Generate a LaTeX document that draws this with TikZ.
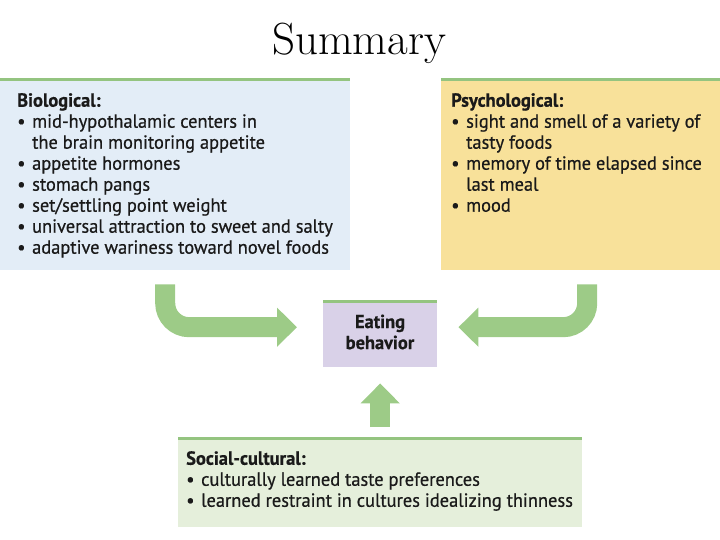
\documentclass[tikz,border=0pt]{standalone}
\usepackage{fontspec}
\setsansfont{PT Sans}[FakeStretch=0.97, FakeBold=0.6]
\usetikzlibrary{arrows.meta,calc}
\definecolor{biofill}{HTML}{E3EDF7}
\definecolor{psyfill}{HTML}{F8E19A}
\definecolor{eatfill}{HTML}{D9D1E8}
\definecolor{socfill}{HTML}{E5EFDB}
\definecolor{arrgreen}{HTML}{9DCB87}
\definecolor{bargreen}{HTML}{94C480}
\definecolor{txt}{HTML}{1A1A1A}
\tikzset{
  panel/.style={draw=none, inner sep=0pt, anchor=north west},
  paneltext/.style={anchor=north west, align=left, inner sep=0pt, text=txt,
    font=\sffamily\fontsize{19}{21}\selectfont},
  topbar/.style={bargreen, line width=3pt},
  bigarrow/.style={arrgreen, line width=20pt, rounded corners=24pt,
    -{Triangle[length=20pt, width=38pt]}},
}
\newcommand{\bul}{\textbullet\hspace{0.35em}}
\newcommand{\ind}{\phantom{\textbullet}\hspace{0.35em}}
\begin{document}
\begin{tikzpicture}[x=1pt,y=-1pt]
\useasboundingbox (0,0) rectangle (720,540);
% title
\node[font=\fontsize{45}{54}\selectfont] (title) at (359,43) {Summary};
% panels
\node[panel, fill=biofill, minimum width=350pt, minimum height=192pt] (bio) at (0,78) {};
\node[panel, fill=psyfill, minimum width=279pt, minimum height=192pt] (psy) at (441,78) {};
\node[panel, fill=eatfill, minimum width=114pt, minimum height=67pt] (eat) at (323,300) {};
\node[panel, fill=socfill, minimum width=404pt, minimum height=90pt] (soc) at (178,437) {};
\foreach \n in {bio,psy,eat,soc}
  \draw[topbar] ([yshift=-1.5pt]\n.north west) -- ([yshift=-1.5pt]\n.north east);
% texts
\node[paneltext] (biotext) at (17,93) {\textbf{Biological:}\\
\bul mid-hypothalamic centers in\\
\ind the brain monitoring appetite\\
\bul appetite hormones\\
\bul stomach pangs\\
\bul set/settling point weight\\
\bul universal attraction to sweet and salty\\
\bul adaptive wariness toward novel foods};
\node[paneltext] (psytext) at (451,93) {\textbf{Psychological:}\\
\bul sight and smell of a variety of\\
\ind tasty foods\\
\bul memory of time elapsed since\\
\ind last meal\\
\bul mood};
\node[paneltext, anchor=center, align=center] (eattext) at (380,332) {\textbf{Eating}\\ \textbf{behavior}};
\node[paneltext] (soctext) at (186,451) {\textbf{Social-cultural:}\\
\bul culturally learned taste preferences\\
\bul learned restraint in cultures idealizing thinness};
% arrows
\draw[bigarrow] ([xshift=-10pt,yshift=-14pt]bio.south) |- ([xshift=-26pt,yshift=6.5pt]eat.west);
\draw[bigarrow] ([xshift=6.5pt,yshift=-14pt]psy.south) |- ([xshift=21pt,yshift=6.5pt]eat.east);
\draw[bigarrow] ([yshift=10pt]soc.north) -- ([yshift=-16pt]eat.south);
\end{tikzpicture}
\end{document}
